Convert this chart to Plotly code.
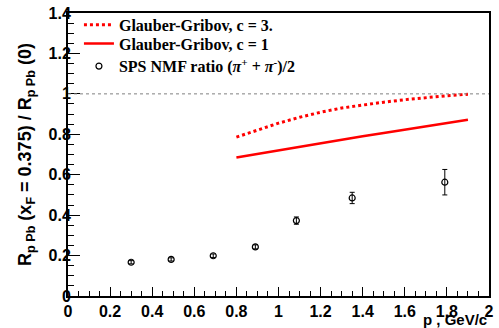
import plotly.graph_objects as go

# Data
p_data = [0.30, 0.49, 0.69, 0.89, 1.085, 1.35, 1.79]
r_data = [0.167, 0.181, 0.199, 0.243, 0.373, 0.485, 0.563]
r_err = [0.008, 0.008, 0.009, 0.010, 0.018, 0.028, 0.063]

p_gg = [0.8, 0.9, 1.0, 1.1, 1.2, 1.3, 1.4, 1.5, 1.6, 1.7, 1.8, 1.9]
r_gg3 = [0.786, 0.821, 0.855, 0.884, 0.909, 0.930, 0.946, 0.959, 0.971, 0.982, 0.991, 0.998]
r_gg1 = [0.685, 0.703, 0.721, 0.739, 0.756, 0.773, 0.790, 0.806, 0.822, 0.838, 0.855, 0.872]

x_ticks = [0, 0.2, 0.4, 0.6, 0.8, 1, 1.2, 1.4, 1.6, 1.8, 2]
x_labels = ["0", "0.2", "0.4", "0.6", "0.8", "1", "1.2", "1.4", "1.6", "1.8", "2"]
y_ticks = [0, 0.2, 0.4, 0.6, 0.8, 1, 1.2, 1.4]
y_labels = ["0", "0.2", "0.4", "0.6", "0.8", "1", "1.2", "1.4"]

fig = go.Figure()
fig.add_trace(go.Scatter(x=p_gg, y=r_gg3, mode="lines",
                         line=dict(color="red", width=3, dash="dot"),
                         name="Glauber-Gribov, c = 3.", legend="legend"))
fig.add_trace(go.Scatter(x=p_gg, y=r_gg1, mode="lines",
                         line=dict(color="red", width=2.5),
                         name="Glauber-Gribov, c = 1", legend="legend2"))
fig.add_trace(go.Scatter(x=p_data, y=r_data, mode="markers",
                         marker=dict(symbol="circle-open", size=6, color="black", line=dict(width=1.2)),
                         error_y=dict(type="data", array=r_err, color="black", thickness=1, width=2.5),
                         name="SPS NMF ratio (<i>π</i><sup>+</sup> + <i>π</i><sup>-</sup>)/2",
                         legend="legend3"))

fig.add_shape(type="line", xref="x", yref="y", x0=0, x1=2, y0=1, y1=1,
              line=dict(color="gray", width=1, dash="dot"))

leg_font = dict(family="Times New Roman, Liberation Serif", size=16, color="black", weight="bold")
def leg(y):
    return dict(x=0.026, y=y, xanchor="left", yanchor="middle", font=leg_font,
                bgcolor="rgba(0,0,0,0)", itemwidth=30)

tick_font = dict(family="Arial, Liberation Sans", size=16, color="black", weight="bold")
fig.update_layout(
    width=499, height=328,
    margin=dict(l=68, r=5, t=8, b=32),
    paper_bgcolor="white", plot_bgcolor="white",
    showlegend=True,
    legend=leg(0.958), legend2=leg(0.892), legend3=leg(0.812),
    xaxis=dict(range=[0, 2], ticks="inside", ticklen=9, tickwidth=1, tickcolor="black",
               minor=dict(ticks="inside", dtick=0.05, ticklen=5, tickcolor="black"),
               showline=True, linecolor="black", linewidth=2, mirror=True,
               showgrid=False, zeroline=False, tickfont=tick_font,
               ticklabeloverflow="allow",
               tickvals=x_ticks, ticktext=x_labels),
    yaxis=dict(range=[0, 1.4], ticks="inside", ticklen=12, tickwidth=1, tickcolor="black",
               minor=dict(ticks="inside", dtick=0.05, ticklen=6, tickcolor="black"),
               showline=True, linecolor="black", linewidth=2, mirror=True,
               showgrid=False, zeroline=False, tickfont=tick_font,
               ticklabeloverflow="allow", ticklabelstandoff=-8,
               tickvals=y_ticks, ticktext=y_labels,
               title=dict(text="R<sub>p Pb</sub> (x<sub>F</sub> = 0.375) / R<sub>p Pb</sub> (0)",
                          font=dict(family="Arial, Liberation Sans", size=18, color="black", weight="bold"),
                          standoff=12)),
)
fig.add_annotation(text="p , GeV/c", xref="paper", yref="paper", x=1, y=0, xanchor="right",
                   yanchor="top", yshift=-13, showarrow=False,
                   font=dict(family="Arial, Liberation Sans", size=15, color="black", weight="bold"))

fig.write_html("out.html")
